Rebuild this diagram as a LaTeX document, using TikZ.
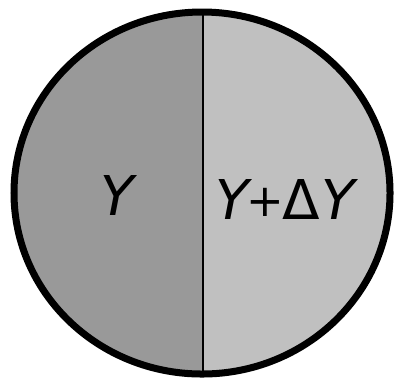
\documentclass[tikz,border=0pt]{standalone}
\usepackage{fontspec}
\setmainfont{DejaVu Sans}
\definecolor{leftgray}{RGB}{153,153,153}
\definecolor{rightgray}{RGB}{192,192,192}

\begin{document}
\begin{tikzpicture}[x=0.01cm,y=-0.01cm,
  rim/.style={line width=0.07cm},
  lbl/.style={font=\fontsize{15.6}{18}\selectfont,inner sep=0pt}]
  \useasboundingbox (0,0) rectangle (395,378);
  % the two halves
  \begin{scope}
    \clip (202,193) ellipse [x radius=188,y radius=181];
    \fill[leftgray] (0,0) rectangle (203,378);
    \fill[rightgray] (203,0) rectangle (395,378);
    \draw[line width=0.02cm] (203,0) -- (203,378);
  \end{scope}
  % outline
  \draw[rim] (202,193) ellipse [x radius=188,y radius=181];
  % labels
  \node[lbl] (y) at (119,195) {\textit{Y}};
  \node[lbl] (ydy) at (287,199)
    {\textit{Y}\kern-0.1em\raisebox{0.05em}{\scalebox{0.82}{+}}\kern-0.04em Δ\kern0.04em\textit{Y}};
\end{tikzpicture}
\end{document}
